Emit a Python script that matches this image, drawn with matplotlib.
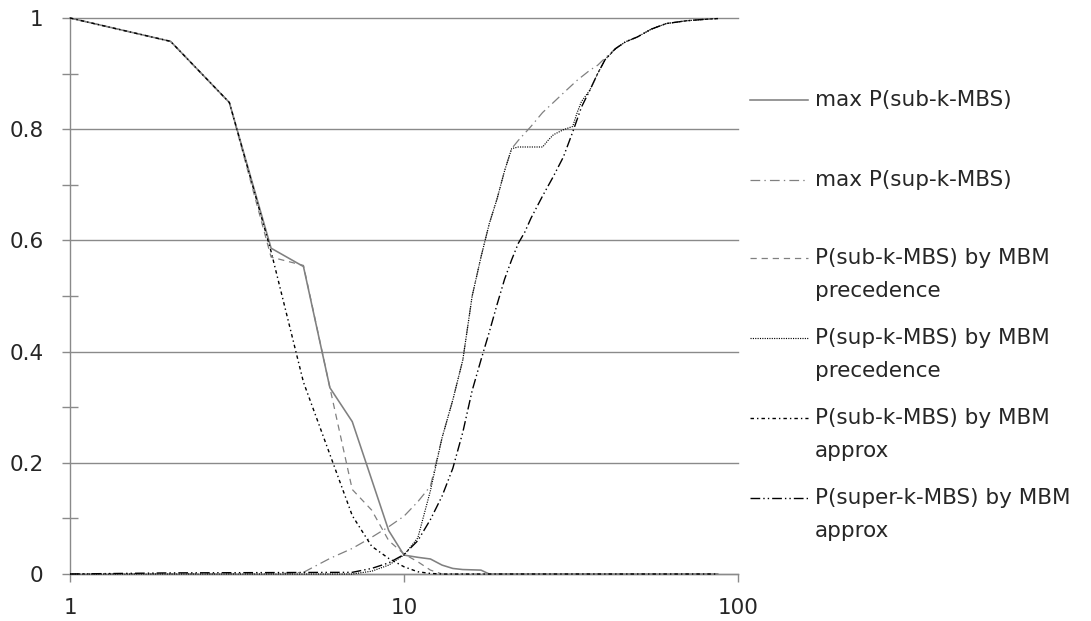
import matplotlib
matplotlib.use('Agg')
import matplotlib.pyplot as plt
from matplotlib.lines import Line2D
from matplotlib.ticker import FixedLocator, FixedFormatter, NullLocator

plt.rcParams['font.family'] = ['DejaVu Sans']
plt.rcParams['lines.scale_dashes'] = False

# ---------------- data ----------------
x_max_sub = [1, 2, 3, 4, 5, 6, 7, 8, 9, 10, 11, 12, 13, 14, 15, 17, 18, 87]
y_max_sub = [1, 0.958, 0.848, 0.586, 0.553, 0.335, 0.274, 0.17, 0.078, 0.034,
             0.030, 0.027, 0.016, 0.010, 0.008, 0.007, 0.0, 0.0]

x_max_sup = [1, 4, 5, 6, 7, 8, 9, 10, 11, 12, 13, 14, 15, 16, 17, 18, 19, 20, 21,
             22, 24, 26, 28, 30, 33, 36, 38, 40, 43, 46, 50, 55, 61, 70, 77, 87]
y_max_sup = [0, 0, 0.003, 0.028, 0.046, 0.066, 0.085, 0.104, 0.13, 0.158, 0.245,
             0.313, 0.385, 0.50, 0.57, 0.63, 0.675, 0.725, 0.765, 0.78, 0.805,
             0.83, 0.848, 0.865, 0.888, 0.906, 0.915, 0.928, 0.945, 0.957, 0.966,
             0.98, 0.99, 0.995, 0.997, 0.999]

x_prec_sub = [1, 2, 3, 4, 5, 6, 7, 8, 9, 10, 11, 12, 13, 87]
y_prec_sub = [1, 0.958, 0.848, 0.57, 0.555, 0.335, 0.152, 0.115, 0.06, 0.036,
              0.022, 0.007, 0.0, 0.0]

x_prec_sup = [1, 7, 8, 9, 10, 11, 12, 13, 14, 15, 16, 17, 18, 19, 20, 21, 22, 24,
              26, 27, 28, 30, 32, 33, 34, 36, 38, 40, 43, 46, 50, 55, 61, 70, 77, 87]
y_prec_sup = [0, 0, 0.005, 0.016, 0.034, 0.065, 0.15, 0.245, 0.313, 0.385, 0.50,
              0.57, 0.63, 0.675, 0.725, 0.765, 0.768, 0.768, 0.768, 0.78, 0.79,
              0.799, 0.805, 0.83, 0.85, 0.87, 0.90, 0.925, 0.945, 0.957, 0.966,
              0.98, 0.99, 0.995, 0.997, 0.999]

x_apx_sub = [1, 2, 3, 4, 5, 6, 7, 8, 9, 10, 11, 12, 13, 87]
y_apx_sub = [1, 0.958, 0.848, 0.58, 0.345, 0.215, 0.105, 0.05, 0.028, 0.013,
             0.004, 0.001, 0.0, 0.0]

x_apx_sup = [1, 2, 7, 8, 9, 10, 11, 12, 13, 14, 15, 16, 17, 18, 19, 20, 21, 22,
             23, 24, 26, 28, 30, 32, 34, 36, 38, 40, 43, 46, 50, 55, 61, 70, 77, 87]
y_apx_sup = [0, 0.002, 0.003, 0.01, 0.02, 0.035, 0.06, 0.098, 0.14, 0.19, 0.255,
             0.33, 0.385, 0.435, 0.485, 0.53, 0.565, 0.595, 0.615, 0.64, 0.68,
             0.715, 0.75, 0.795, 0.84, 0.87, 0.90, 0.925, 0.945, 0.957, 0.966,
             0.98, 0.99, 0.995, 0.997, 0.999]

labels = ["max P(sub-k-MBS)",
          "max P(sup-k-MBS)",
          "P(sub-k-MBS) by MBM\nprecedence",
          "P(sup-k-MBS) by MBM\nprecedence",
          "P(sub-k-MBS) by MBM\napprox",
          "P(super-k-MBS) by MBM\napprox"]

x_ticks = [1, 10, 100]
x_tick_labels = ["1", "10", "100"]
y_ticks = [0, 0.2, 0.4, 0.6, 0.8, 1.0]
y_tick_labels = ["0", "0.2", "0.4", "0.6", "0.8", "1"]
y_minor = [0.1, 0.3, 0.5, 0.7, 0.9]

# ---------------- styles ----------------
GRID = '#8a8a8a'
GRAY = '#808080'
TXT = '#262626'
FS = 15.5

styles = [
    dict(color=GRAY, lw=1.15, ls='-'),
    dict(color=GRAY, lw=0.9, ls=(0, (7, 3, 1, 3))),
    dict(color=GRAY, lw=0.9, ls=(0, (4.5, 3.5))),
    dict(color='black', lw=0.85, ls=(0, (0.8, 0.9))),
    dict(color='black', lw=1.0, ls=(0, (2.5, 2.2, 1, 2.2))),
    dict(color='black', lw=1.0, ls=(0, (7, 2.2, 1, 2.2, 1, 2.2))),
]

W, H = 1091, 621
fig = plt.figure(figsize=(W / 100, H / 100), dpi=100)
ax = fig.add_axes([70 / W, 1 - 574 / H, (738 - 70) / W, (574 - 18) / H])

ax.set_xscale('log')
ax.set_xlim(1, 100)
ax.set_ylim(0, 1)

series = [(x_max_sub, y_max_sub), (x_max_sup, y_max_sup),
          (x_prec_sub, y_prec_sub), (x_prec_sup, y_prec_sup),
          (x_apx_sub, y_apx_sub), (x_apx_sup, y_apx_sup)]
for (xs, ys), st in zip(series, styles):
    ax.plot(xs, ys, color=st['color'], lw=st['lw'], linestyle=st['ls'],
            clip_on=False, zorder=3)

# axes styling
for s in ['top', 'right']:
    ax.spines[s].set_visible(False)
for s in ['left', 'bottom']:
    ax.spines[s].set_color(GRID)
    ax.spines[s].set_linewidth(1.0)

ax.xaxis.set_major_locator(FixedLocator(x_ticks))
ax.xaxis.set_major_formatter(FixedFormatter(x_tick_labels))
ax.xaxis.set_minor_locator(NullLocator())
ax.yaxis.set_major_locator(FixedLocator(y_ticks))
ax.yaxis.set_major_formatter(FixedFormatter(y_tick_labels))
ax.yaxis.set_minor_locator(FixedLocator(y_minor))

ax.tick_params(axis='x', which='major', direction='out', length=6, width=1.0,
               color=GRID, labelsize=FS, labelcolor=TXT, pad=11)
ax.tick_params(axis='y', which='major', direction='out', length=6, width=1.0,
               color=GRID, labelsize=FS, labelcolor=TXT, pad=13)
ax.tick_params(axis='y', which='minor', direction='inout', length=11.5, width=1.0,
               color=GRID)

ax.yaxis.grid(True, which='major', color=GRID, lw=1.0)
ax.set_axisbelow(True)
for gl in ax.get_ygridlines():
    gl.set_clip_on(False)

# ---------------- legend (drawn by hand, Excel-like) ----------------
leg_y = [100, 180, 258, 338, 418, 498]
for lab, st, yy in zip(labels, styles, leg_y):
    fy = 1 - yy / H
    fig.add_artist(Line2D([750 / W, 808 / W], [fy, fy], transform=fig.transFigure,
                          color=st['color'], lw=st['lw'], linestyle=st['ls']))
    lines = lab.split('\n')
    for i, ln in enumerate(lines):
        fig.text(815 / W, 1 - (yy + 33 * i) / H, ln, fontsize=FS, color=TXT,
                 ha='left', va='center')

fig.savefig('out.png', dpi=100)
